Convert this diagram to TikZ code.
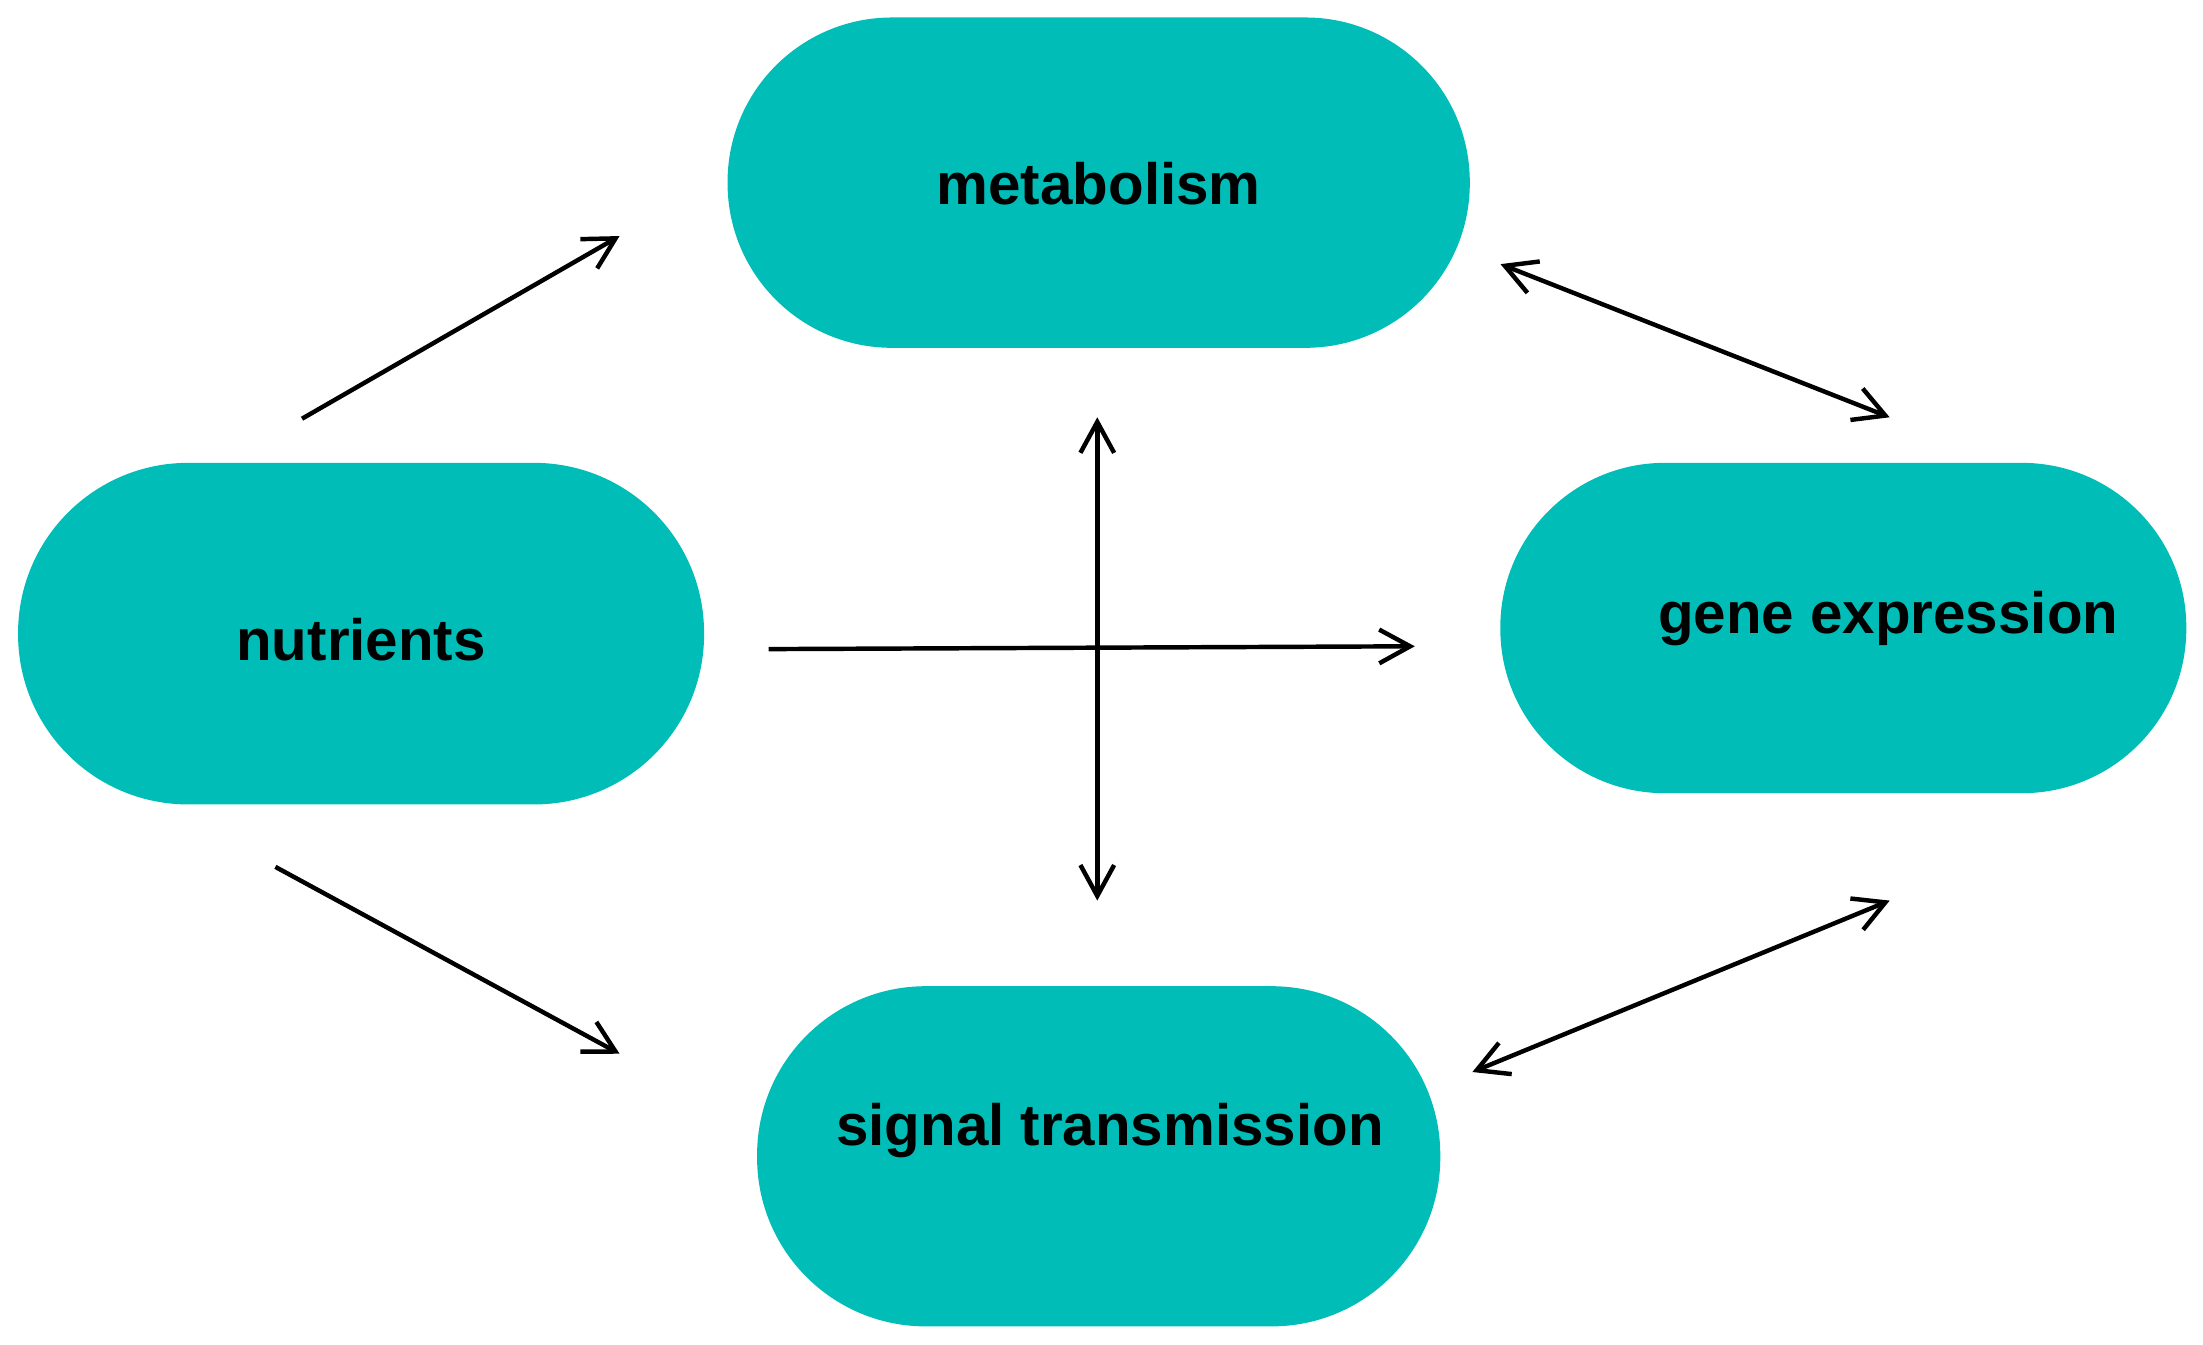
\documentclass[tikz,border=0pt]{standalone}
\usepackage{fontspec}
\setmainfont{Liberation Sans}
\usetikzlibrary{arrows.meta}
\definecolor{teal1}{HTML}{00BDB8}
\begin{document}
\begin{tikzpicture}[x=0.01cm,y=-0.01cm,
  pill/.style={fill=teal1,draw=none,rectangle},
  lab/.style={font=\bfseries\fontsize{11.8}{14}\selectfont,inner sep=0pt},
  arr/.style={line width=0.9pt,-{Straight Barb[length=2.2mm,width=2.4mm]}},
  darr/.style={line width=0.9pt,{Straight Barb[length=2.2mm,width=2.4mm]}-{Straight Barb[length=2.2mm,width=2.4mm]}}]
\useasboundingbox (0,0) rectangle (1568,957);
\node[pill,minimum width=5.28cm,minimum height=2.35cm,rounded corners=1.17cm] (met) at (782,130) {};
\node[pill,minimum width=4.88cm,minimum height=2.43cm,rounded corners=1.21cm] (nut) at (257,451) {};
\node[pill,minimum width=4.88cm,minimum height=2.35cm,rounded corners=1.17cm] (gen) at (1312,447) {};
\node[pill,minimum width=4.86cm,minimum height=2.42cm,rounded corners=1.2cm] (sig) at (782,823) {};
\node[lab] (tmet) at (782,131) {metabolism};
\node[lab] (tnut) at (257,455) {nutrients};
\node[lab] (tgen) at (1344,440) {gene expression};
\node[lab] (tsig) at (790,805) {signal transmission};
\coordinate (a1) at (215,298); \coordinate (a2) at (441,168);
\coordinate (b1) at (1068,188); \coordinate (b2) at (1345,297);
\coordinate (c1) at (781,297); \coordinate (c2) at (781,641);
\coordinate (d1) at (547,462); \coordinate (d2) at (1007,460);
\coordinate (e1) at (196,617); \coordinate (e2) at (441,750);
\coordinate (f1) at (1048,763); \coordinate (f2) at (1345,641);
\draw[arr] (a1) -- (a2);
\draw[darr] (b1) -- (b2);
\draw[darr] (c1) -- (c2);
\draw[arr] (d1) -- (d2);
\draw[arr] (e1) -- (e2);
\draw[darr] (f1) -- (f2);
\end{tikzpicture}
\end{document}
